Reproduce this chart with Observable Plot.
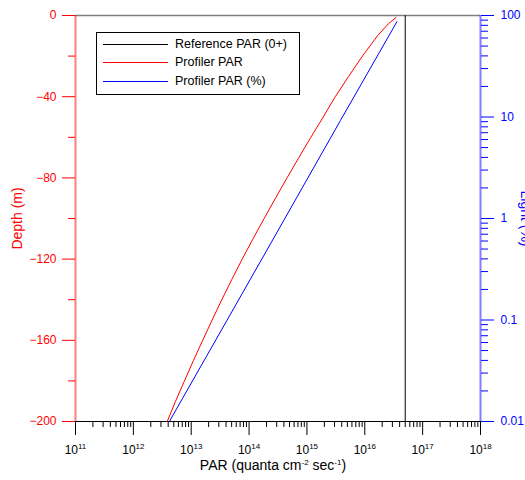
<!DOCTYPE html>
<html>
<head>
<meta charset="utf-8">
<script src="https://cdn.jsdelivr.net/npm/d3@7"></script>
<script src="https://cdn.jsdelivr.net/npm/@observablehq/plot@0.6"></script>
<style>
  html, body { margin: 0; padding: 0; background: #fff; overflow: hidden; }
  #wrap { position: relative; width: 525px; height: 480px; font-family: "Liberation Sans", Arial, sans-serif; }
  #legend { position: absolute; left: 96px; top: 32px; width: 204px; height: 63px; box-sizing: border-box;
            border: 1px solid #000; background: #fff; }
  #legend .row { position: absolute; left: 0; height: 16px; font-size: 12.5px; line-height: 16px; color: #000; }
  #legend .swatch { position: absolute; left: 6px; top: 8px; width: 65px; height: 0; border-top: 1px solid; }
  #legend .label { position: absolute; left: 78px; top: 0; white-space: nowrap; }
</style>
</head>
<body>
<div id="wrap"><div id="legend"></div></div>
<script>
// Profiler PAR (quanta cm^-2 s^-1) against depth (m)
const redDepth = [-1, -4, -10, -20, -30, -40, -50, -60, -70, -80, -90, -100,
                  -110, -120, -130, -140, -150, -160, -170, -180, -190, -200];
const redPar = [3.47e16, 2.57e16, 1.66e16, 9.1e15, 5.25e15, 3.09e15, 1.91e15, 1.17e15,
                7.24e14, 4.53e14, 2.86e14, 1.82e14, 1.17e14, 7.6e13, 5.04e13, 3.38e13,
                2.3e13, 1.58e13, 1.09e13, 7.64e12, 5.37e12, 3.85e12];

// Profiler PAR expressed as percent of surface light (right axis) against PAR
const bluePar = [3.6e16, 3.8e15, 2.0e14, 4.2e12];
const bluePct = [87, 9.25, 0.48, 0.01];

// Reference (deck) PAR just above the surface
const refPar = 5e16;
const refDepth = [0, -200];

// Axis ticks
const xExps = [11, 12, 13, 14, 15, 16, 17, 18];
const depthMajor = [0, -40, -80, -120, -160, -200];
const depthMinor = [-20, -60, -100, -140, -180];
const pctMajor = [100, 10, 1, 0.1, 0.01];
const pctLabels = ["100", "10", "1", "0.1", "0.01"];

const legendNames = ["Reference PAR (0+)", "Profiler PAR", "Profiler PAR (%)"];
const legendColors = ["#000000", "#ff0000", "#0000ff"];

// The light axis spans four decades over the same height as the 200 m depth axis
const pctToDepth = p => (Math.log10(p) - 2) * 50;

const xMajor = xExps.map(e => Math.pow(10, e));
const xMinor = xExps.slice(0, -1).flatMap(e => d3.range(2, 10).map(k => k * Math.pow(10, e)));
const pctMinor = [0.01, 0.1, 1, 10].flatMap(b => d3.range(2, 10).map(k => k * b));
const pctLabelByDepth = new Map(pctMajor.map((p, i) => [Math.round(pctToDepth(p) * 1000), pctLabels[i]]));

const chart = Plot.plot({
  width: 525,
  height: 480,
  marginLeft: 75,
  marginRight: 45,
  marginTop: 15,
  marginBottom: 59,
  x: {type: "log", domain: [1e11, 1e18]},
  y: {domain: [-200, 0]},
  style: {fontFamily: "Liberation Sans, Arial, sans-serif", fontSize: "12px", background: "#fff"},
  marks: [
    // frame lines
    Plot.ruleY([0], {stroke: "#808080", strokeWidth: 1.5}),
    Plot.ruleX([1e11], {stroke: "#ff0000", strokeOpacity: 0.5, strokeWidth: 2}),
    Plot.ruleX([1e18], {stroke: "#0000ff", strokeOpacity: 0.5, strokeWidth: 2}),

    // bottom axis
    Plot.axisX({ticks: xMajor, tickSize: 14, tickFormat: () => "", label: null, stroke: "#000"}),
    Plot.axisX({ticks: xMinor, tickSize: 6, tickFormat: () => "", label: null, stroke: "#000"}),
    Plot.text(xMajor, {x: d => d, text: (d, i) => `10^{${xExps[i]}}`, frameAnchor: "bottom", dy: 32, fontSize: 12, fill: "#000"}),
    Plot.text(["PAR (quanta cm^{-2} sec^{-1})"], {frameAnchor: "bottom", textAnchor: "middle", dy: 48, dx: -5, fontSize: 14, fill: "#000"}),

    // left depth axis
    Plot.axisY({ticks: depthMajor, tickSize: 13, tickPadding: 6, color: "#ff0000", label: null, fontSize: 12}),
    Plot.axisY({ticks: depthMinor, tickSize: 7, tickFormat: () => "", color: "#ff0000", label: null}),
    Plot.text(["Depth (m)"], {frameAnchor: "left", textAnchor: "middle", rotate: -90, dx: -54, lineAnchor: "bottom", fontSize: 14, fill: "#ff0000"}),

    // right light axis
    Plot.axisY({anchor: "right", ticks: pctMajor.map(pctToDepth), tickSize: 13, tickPadding: 7,
                tickFormat: d => pctLabelByDepth.get(Math.round(d * 1000)), color: "#0000ff", label: null, fontSize: 12}),
    Plot.axisY({anchor: "right", ticks: pctMinor.map(pctToDepth), tickSize: 7, tickFormat: () => "", color: "#0000ff", label: null}),
    Plot.text(["Light (%)"], {frameAnchor: "right", textAnchor: "middle", rotate: 90, dx: 40, lineAnchor: "bottom", fontSize: 14, fill: "#0000ff"}),

    Plot.ruleY([-200], {stroke: "#000"}),

    // series
    Plot.line(refDepth, {x: () => refPar, y: d => d, stroke: "#000", strokeWidth: 1}),
    Plot.line(redDepth, {x: redPar, y: redDepth, stroke: "#ff0000", strokeWidth: 1}),
    Plot.line(bluePct, {x: bluePar, y: bluePct.map(pctToDepth), stroke: "#0000ff", strokeWidth: 1})
  ]
});

// Render "^{...}" runs as raised, smaller text
d3.select(chart).selectAll("text").each(function () {
  const s = this.textContent;
  if (!s.includes("^{")) return;
  const el = d3.select(this);
  const size = parseFloat(el.attr("font-size")) || 12;
  el.text(null);
  const parts = s.split(/(\^\{[^}]*\})/).filter(p => p !== "");
  let raised = false;
  for (const p of parts) {
    const m = p.match(/^\^\{([^}]*)\}$/);
    const t = el.append("tspan");
    if (m) {
      t.text(m[1]).attr("font-size", Math.round(size * 0.68)).attr("dy", -size * 0.4);
      raised = true;
    } else {
      t.text(p);
      if (raised) { t.attr("dy", size * 0.4); raised = false; }
    }
  }
});

document.getElementById("wrap").prepend(chart);

// legend
const legend = d3.select("#legend");
legendNames.forEach((name, i) => {
  const row = legend.append("div").attr("class", "row").style("top", `${3 + i * 18.4}px`).style("width", "200px");
  row.append("div").attr("class", "swatch").style("border-top-color", legendColors[i]);
  row.append("div").attr("class", "label").text(name);
});
</script>
</body>
</html>
